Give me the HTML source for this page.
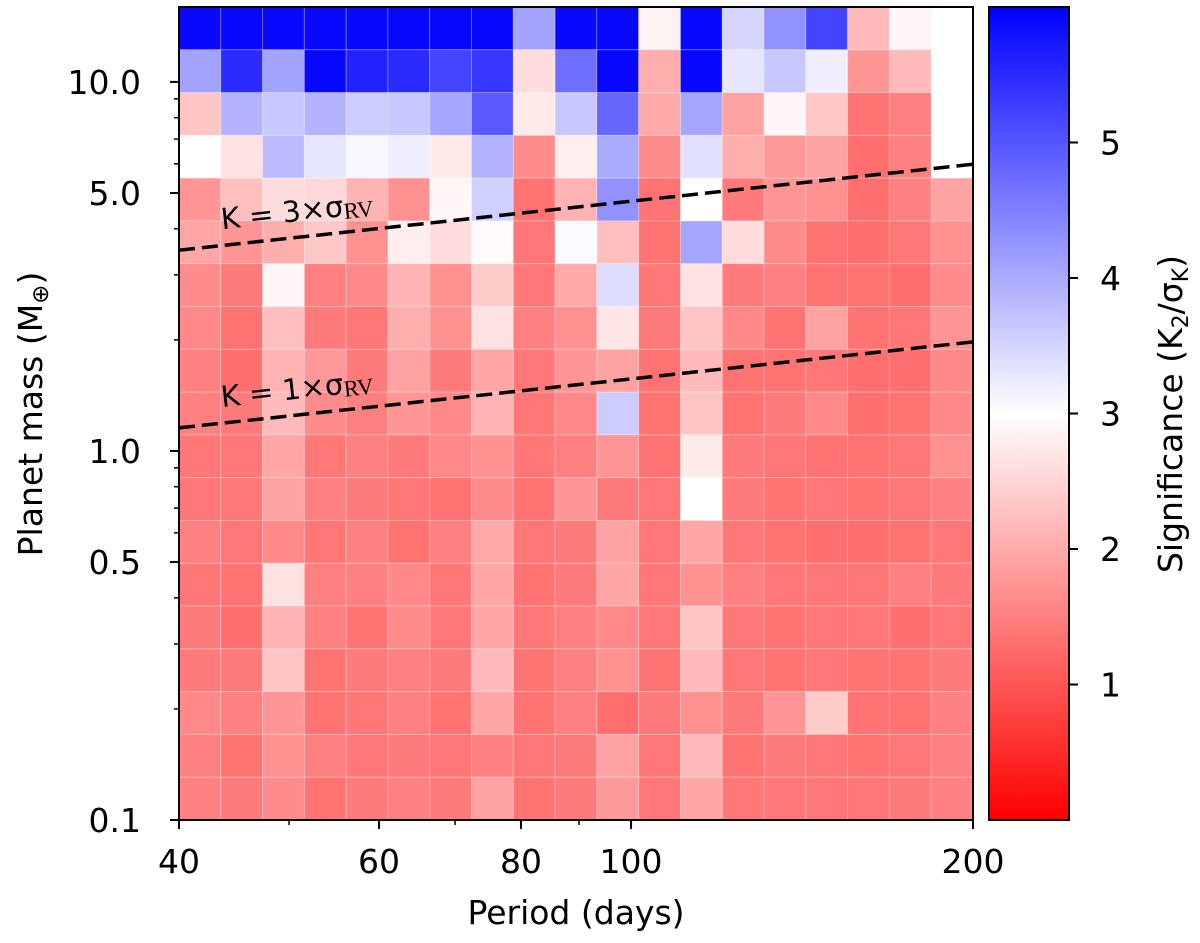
<!DOCTYPE html>
<html><head><meta charset="utf-8"><style>
html,body{margin:0;padding:0;background:#fff;}
svg{display:block;font-family:"DejaVu Sans","Liberation Sans",sans-serif;}
</style></head><body>
<svg id="chart" width="1200" height="943" viewBox="0 0 1200 943" xmlns="http://www.w3.org/2000/svg">
<defs>
<linearGradient id="cbgrad" x1="0" y1="1" x2="0" y2="0">
<stop offset="0" stop-color="rgb(255,0,0)"/><stop offset="0.5" stop-color="rgb(255,255,255)"/><stop offset="1" stop-color="rgb(0,0,255)"/>
</linearGradient>
</defs>
<g id="cells"></g>
<g id="lines"></g>
<rect x="179" y="7" width="794" height="813" fill="none" stroke="#000" stroke-width="2"/>
<g id="axes"></g>
<text x="576" y="924" font-size="33" text-anchor="middle">Period (days)</text>
<text transform="translate(42,414) rotate(-90)" font-size="33" text-anchor="middle">Planet mass (M<tspan font-size="23" dy="6">⊕</tspan><tspan dy="-6">)</tspan></text>
<rect x="989" y="7" width="80" height="813" fill="url(#cbgrad)" stroke="#000" stroke-width="2"/>
<g id="cbaxis"></g>
<text transform="translate(1182,414) rotate(-90)" font-size="33" text-anchor="middle">Significance (K<tspan font-size="22" dy="6">2</tspan><tspan dy="-6">/σ</tspan><tspan font-size="22" dy="6">K</tspan><tspan dy="-6">)</tspan></text>
</svg>
<script>
const NS="http://www.w3.org/2000/svg";
const periodTicks=[40,60,80,100,200];
const periodMinor=[50,70,90];
const massTicks=[0.1,0.5,1.0,5.0,10.0];
const massTickLabels=["0.1","0.5","1.0","5.0","10.0"];
const massMinor=[0.2,0.3,0.4,0.6,0.7,0.8,0.9,2,3,4,6,7,8,9];
const cbTicks=[1,2,3,4,5];
const periodRange=[40,200];
const massRange=[0.1,15.96];
const cbRange=[0,6];
const lineLevels=[3,1];
const lineMassAt40=[3.5,1.155];
const lineLabels=["3","1"];
// significance grid rows, top (high mass) to bottom (low mass), 19 columns each
const sig=[
[5.9,5.9,5.9,5.9,5.9,5.9,5.9,5.9,4.1,5.9,5.9,2.85,5.9,3.5,4.3,5.2,2.2,2.9,3.0],
[4.1,5.5,4.1,5.9,5.6,5.5,5.2,5.35,2.6,4.7,5.9,2.05,5.9,3.3,3.65,3.2,1.75,2.2,3.0],
[2.3,3.9,3.65,3.9,3.6,3.65,4.05,4.95,2.75,3.65,4.8,2.0,4.05,1.9,2.9,2.35,1.35,1.5,3.0],
[3.0,2.65,3.8,3.3,3.1,3.2,2.75,3.9,1.65,2.8,4.0,1.65,3.35,2.05,1.8,1.9,1.3,1.5,3.0],
[1.75,2.25,2.6,2.55,2.1,1.7,2.9,3.55,1.35,2.1,4.3,1.35,3.0,1.45,1.75,1.7,1.3,1.5,1.9],
[1.95,1.75,2.05,2.35,1.7,2.8,2.6,2.95,1.4,3.05,2.25,1.35,4.05,2.6,1.65,1.35,1.3,1.4,1.7],
[1.65,1.45,2.9,1.5,1.6,2.1,1.7,2.4,1.4,2.0,3.4,1.4,2.65,1.45,1.5,1.35,1.35,1.3,1.65],
[1.6,1.35,2.25,1.45,1.4,2.05,1.7,2.65,1.5,1.7,2.7,1.45,2.3,1.6,1.35,1.9,1.35,1.4,1.75],
[1.5,1.3,2.1,1.8,1.45,1.9,1.45,1.95,1.4,1.75,1.9,1.35,2.2,1.35,1.35,1.4,1.3,1.3,1.6],
[1.5,1.45,2.2,1.65,1.5,1.75,1.6,2.1,1.4,1.6,3.6,1.35,2.3,1.35,1.45,1.6,1.3,1.35,1.6],
[1.4,1.4,1.95,1.4,1.5,1.45,1.6,1.7,1.4,1.5,1.75,1.35,2.75,1.45,1.4,1.35,1.35,1.4,1.7],
[1.4,1.4,1.9,1.5,1.45,1.4,1.35,1.65,1.35,1.75,1.45,1.4,3.0,1.45,1.35,1.4,1.35,1.4,1.5],
[1.5,1.4,1.6,1.4,1.5,1.35,1.5,2.0,1.4,1.45,1.9,1.4,1.95,1.4,1.35,1.3,1.3,1.35,1.4],
[1.4,1.35,2.65,1.5,1.5,1.6,1.4,1.95,1.35,1.45,1.95,1.4,1.7,1.5,1.4,1.4,1.4,1.5,1.45],
[1.45,1.3,2.1,1.5,1.35,1.65,1.4,1.95,1.4,1.5,1.6,1.4,2.3,1.4,1.35,1.4,1.4,1.3,1.4],
[1.45,1.45,2.3,1.35,1.45,1.5,1.45,2.2,1.35,1.5,1.7,1.35,2.2,1.4,1.35,1.4,1.35,1.35,1.45],
[1.6,1.5,1.75,1.35,1.4,1.5,1.35,1.95,1.35,1.5,1.3,1.45,1.7,1.45,1.75,2.4,1.35,1.35,1.5],
[1.5,1.35,1.7,1.5,1.4,1.45,1.4,1.5,1.4,1.45,1.9,1.4,2.2,1.35,1.45,1.4,1.35,1.4,1.5],
[1.5,1.45,1.65,1.35,1.45,1.5,1.45,1.9,1.35,1.45,1.8,1.4,1.95,1.4,1.4,1.4,1.4,1.45,1.5]
];
const X0=179,X1=973,Y0=820,Y1=7;
function xs(p){return X0+(Math.log(p)-Math.log(periodRange[0]))/(Math.log(periodRange[1])-Math.log(periodRange[0]))*(X1-X0);}
function ys(m){return Y0-(Math.log(m)-Math.log(massRange[0]))/(Math.log(massRange[1])-Math.log(massRange[0]))*(Y0-Y1);}
function cy(v){return 820-(v-cbRange[0])/(cbRange[1]-cbRange[0])*813;}
function color(v){
  const mid=(cbRange[0]+cbRange[1])/2;
  v=Math.max(cbRange[0],Math.min(cbRange[1],v));
  if(v<=mid){const t=Math.round(255*(v-cbRange[0])/(mid-cbRange[0]));return `rgb(255,${t},${t})`;}
  const t=Math.round(255*(cbRange[1]-v)/(cbRange[1]-mid));return `rgb(${t},${t},255)`;
}
function mk(tag,attrs,parent){const e=document.createElementNS(NS,tag);for(const k in attrs)e.setAttribute(k,attrs[k]);parent.appendChild(e);return e;}
const cells=document.getElementById('cells');
const nR=sig.length,nC=sig[0].length;
const lp0=Math.log(periodRange[0]),lp1=Math.log(periodRange[1]),lm0=Math.log(massRange[0]),lm1=Math.log(massRange[1]);
for(let r=0;r<nR;r++){for(let c=0;c<nC;c++){
  const pa=Math.exp(lp0+(lp1-lp0)*c/nC),pb=Math.exp(lp0+(lp1-lp0)*(c+1)/nC);
  const ma=Math.exp(lm1-(lm1-lm0)*r/nR),mb=Math.exp(lm1-(lm1-lm0)*(r+1)/nR);
  const el=mk('rect',{x:xs(pa),y:ys(ma),width:xs(pb)-xs(pa),height:ys(mb)-ys(ma),fill:color(sig[r][c]),stroke:'rgba(255,255,255,0.25)','stroke-width':1},cells);
  
  
}}
const lines=document.getElementById('lines');
for(let i=0;i<lineLevels.length;i++){
  const m0=lineMassAt40[i],m1=m0*Math.pow(periodRange[1]/periodRange[0],1/3);
  const ln=mk('line',{x1:xs(periodRange[0]),y1:ys(m0),x2:xs(periodRange[1]),y2:ys(m1),stroke:'#000','stroke-width':3.5,'stroke-dasharray':'16,7'},lines);
  
  
  const lx=222,ly=ys(m0*Math.pow(45.5/40,1/3))-14;
  const ang=Math.atan((ys(m1)-ys(m0))/(X1-X0))*180/Math.PI;
  const t=mk('text',{x:lx,y:ly,'font-size':29,transform:`rotate(${ang} ${lx} ${ly})`},lines);
  
  
  t.innerHTML=`K = ${lineLabels[i]}×σ<tspan font-family="Liberation Serif, serif" font-size="23" dy="3">RV</tspan>`;
}
const axes=document.getElementById('axes');
periodTicks.forEach(p=>{
  const x=xs(p);
  const tk=mk('line',{x1:x,y1:820,x2:x,y2:829,stroke:'#000','stroke-width':2},axes);
  
  
  const t=mk('text',{x:x,y:873,'font-size':33,'text-anchor':'middle'},axes);
  
  
  t.textContent=p;
});
periodMinor.forEach(p=>{
  const tk=mk('line',{x1:xs(p),y1:820,x2:xs(p),y2:825,stroke:'#000','stroke-width':1.5},axes);
  
  
});
massTicks.forEach((m,i)=>{
  const y=ys(m);
  const tk=mk('line',{x1:170,y1:y,x2:179,y2:y,stroke:'#000','stroke-width':2},axes);
  
  
  const t=mk('text',{x:141,y:y+12,'font-size':33,'text-anchor':'end'},axes);
  
  
  t.textContent=massTickLabels[i];
});
massMinor.forEach(m=>{
  const tk=mk('line',{x1:174,y1:ys(m),x2:179,y2:ys(m),stroke:'#000','stroke-width':1.5},axes);
  
  
});
const cb=document.getElementById('cbaxis');
cbTicks.forEach(v=>{
  const y=cy(v);
  const tk=mk('line',{x1:1069,y1:y,x2:1078,y2:y,stroke:'#000','stroke-width':2},cb);
  
  
  const t=mk('text',{x:1100,y:y+12,'font-size':33},cb);
  
  
  t.textContent=v;
});
</script>
</body></html>
